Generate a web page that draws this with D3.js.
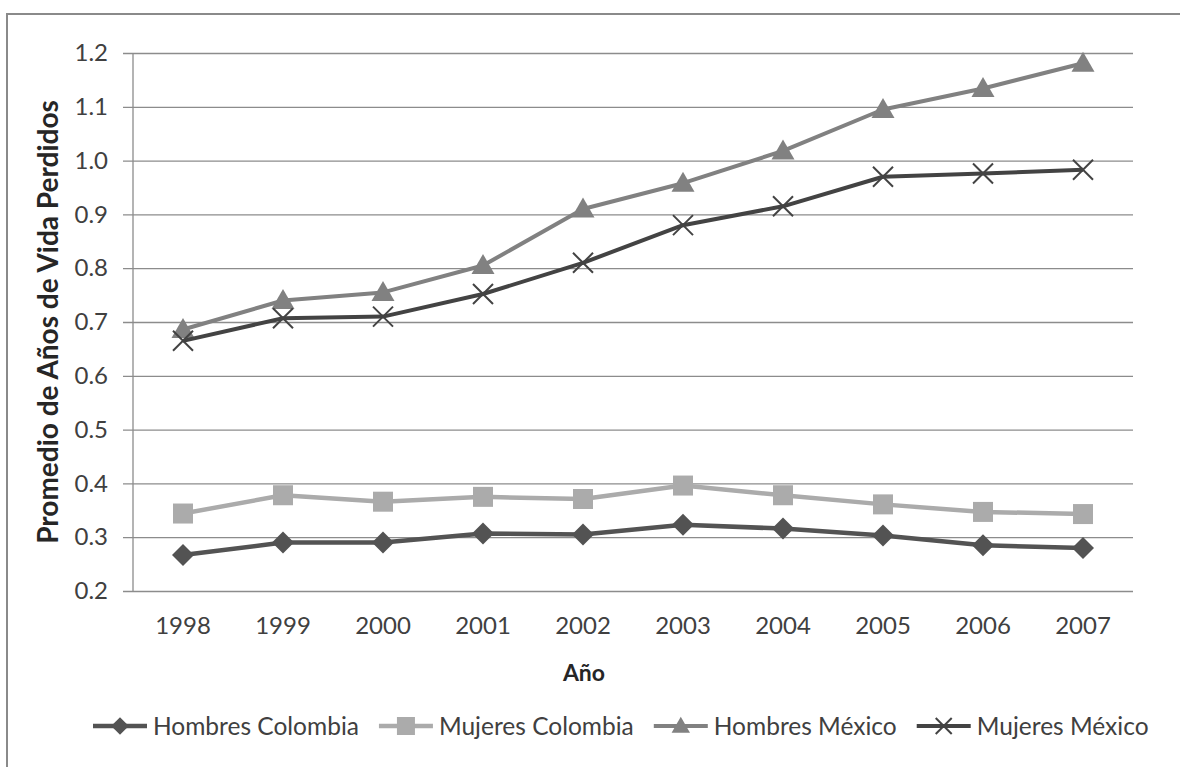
<!DOCTYPE html>
<html><head><meta charset="utf-8">
<script src="https://cdn.jsdelivr.net/npm/d3@7"></script>
<style>html,body{margin:0;padding:0;background:#fff;}svg{display:block;}</style>
</head><body>
<svg id="c" width="1180" height="767"></svg>
<script>
const years = ["1998","1999","2000","2001","2002","2003","2004","2005","2006","2007"];
const hombresColombia = [0.267,0.290,0.290,0.307,0.305,0.323,0.316,0.303,0.285,0.280];
const mujeresColombia = [0.344,0.378,0.366,0.375,0.371,0.396,0.378,0.361,0.347,0.343];
const hombresMexico   = [0.686,0.740,0.755,0.805,0.910,0.958,1.018,1.095,1.134,1.181];
const mujeresMexico   = [0.665,0.707,0.710,0.752,0.810,0.880,0.915,0.970,0.976,0.983];
const seriesNames = ["Hombres Colombia","Mujeres Colombia","Hombres México","Mujeres México"];
const yTicks = [0.2,0.3,0.4,0.5,0.6,0.7,0.8,0.9,1.0,1.1,1.2];
const yTitle = "Promedio de Años de Vida Perdidos";
const xTitle = "Año";

const series = [
  {name: seriesNames[0], values: hombresColombia, color: "#535353", marker: "diamond", width: 4.5},
  {name: seriesNames[1], values: mujeresColombia, color: "#ababab", marker: "square", width: 4.5},
  {name: seriesNames[2], values: hombresMexico, color: "#818181", marker: "triangle", width: 4},
  {name: seriesNames[3], values: mujeresMexico, color: "#434343", marker: "x", width: 4}
];

const svg = d3.select("#c");
const font = "Lato, 'Open Sans', sans-serif";
const pLeft = 133, pRight = 1133, pTop = 53, pBottom = 591;

// outer frame
svg.append("rect").attr("x", 7).attr("y", 14).attr("width", 1200).attr("height", 800)
  .attr("fill", "#fff").attr("stroke", "#8a8a8a").attr("stroke-width", 2);

const x = d3.scaleBand().domain(years).range([pLeft, pRight]);
const y = d3.scaleLinear().domain([0.2, 1.2]).range([pBottom, pTop]);

// gridlines
const yAxis = d3.axisLeft(y).tickValues(yTicks).tickFormat(d3.format(".1f"))
  .tickSize(-(pRight - pLeft)).tickSizeOuter(0).tickPadding(14);
const gy = svg.append("g").attr("transform", `translate(${pLeft},0)`).call(yAxis);
gy.select(".domain").remove();
gy.selectAll(".tick line").attr("stroke", "#8c8c8c").attr("stroke-width", 1.3).attr("x1", -10);
gy.selectAll(".tick text").attr("font-family", font).attr("font-size", 24).attr("fill", "#404040")
  .attr("x", -25);

// y axis line
svg.append("line").attr("x1", pLeft).attr("x2", pLeft).attr("y1", pTop).attr("y2", pBottom)
  .attr("stroke", "#8c8c8c").attr("stroke-width", 1.3);

// x axis labels
const xAxis = d3.axisBottom(x).tickSize(0).tickPadding(26);
const gx = svg.append("g").attr("transform", `translate(0,${pBottom})`).call(xAxis);
gx.select(".domain").remove();
gx.selectAll(".tick text").attr("font-family", font).attr("font-size", 24).attr("fill", "#404040");

// titles
svg.append("text").attr("x", 584).attr("y", 681).attr("text-anchor", "middle")
  .attr("font-family", font).attr("font-weight", "bold").attr("font-size", 23).attr("fill", "#262626")
  .text(xTitle);
svg.append("text").attr("transform", `translate(58,${(pTop + pBottom) / 2}) rotate(-90)`)
  .attr("text-anchor", "middle").attr("font-family", font).attr("font-weight", "bold")
  .attr("font-size", 28).attr("fill", "#262626").text(yTitle);

function drawMarker(g, type, color, cx, cy, s) {
  if (type === "diamond") {
    g.append("path").attr("d", `M${cx},${cy - s * 1.1}L${cx + s * 1.1},${cy}L${cx},${cy + s * 1.1}L${cx - s * 1.1},${cy}Z`).attr("fill", color);
  } else if (type === "square") {
    g.append("rect").attr("x", cx - s).attr("y", cy - s).attr("width", 2 * s).attr("height", 2 * s).attr("fill", color);
  } else if (type === "triangle") {
    g.append("path").attr("d", `M${cx},${cy - s * 1.15}L${cx + s * 1.15},${cy + s * 0.85}L${cx - s * 1.15},${cy + s * 0.85}Z`).attr("fill", color);
  } else {
    g.append("path").attr("d", `M${cx - s},${cy - s}L${cx + s},${cy + s}M${cx - s},${cy + s}L${cx + s},${cy - s}`)
      .attr("stroke", color).attr("stroke-width", 2).attr("fill", "none");
  }
}

const line = d3.line().x((d, i) => x(years[i]) + x.bandwidth() / 2).y(d => y(d));
series.forEach(s => {
  const g = svg.append("g");
  g.append("path").attr("d", line(s.values)).attr("fill", "none").attr("stroke", s.color)
    .attr("stroke-width", s.width).attr("stroke-linejoin", "round");
  s.values.forEach((v, i) => {
    drawMarker(g, s.marker, s.color, x(years[i]) + x.bandwidth() / 2, y(v), 10);
  });
});

// legend
const legY = 726;
let lx = 93;
series.forEach(s => {
  const g = svg.append("g");
  g.append("line").attr("x1", lx).attr("x2", lx + 54).attr("y1", legY).attr("y2", legY)
    .attr("stroke", s.color).attr("stroke-width", s.width);
  drawMarker(g, s.marker, s.color, lx + 27, legY, s.marker === "square" ? 9 : 8);
  const t = g.append("text").attr("x", lx + 60).attr("y", legY).attr("dy", "0.35em")
    .attr("font-family", font).attr("font-size", 24.5).attr("fill", "#404040").text(s.name);
  lx += 60 + t.node().getComputedTextLength() + 20;
});
</script>
</body></html>
